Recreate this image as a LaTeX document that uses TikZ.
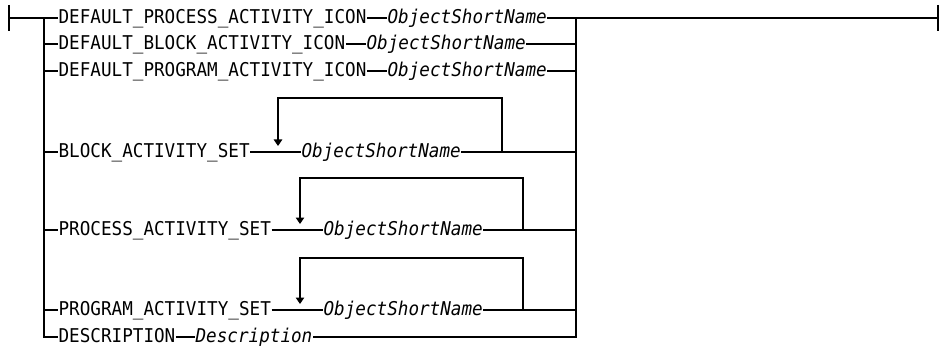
\documentclass[tikz,border=0pt]{standalone}
\usepackage{fontspec}
\newfontfamily\diagfont[FakeStretch=0.928]{DejaVu Sans Mono}
\usetikzlibrary{arrows.meta}
\begin{document}
\begin{tikzpicture}[x=1pt,y=-1pt,
  line width=1.2pt,
  txt/.style={anchor=west,inner xsep=0pt,inner ysep=0pt,text height=14pt,text depth=2.8pt,
    font=\diagfont\fontsize{19}{22}\selectfont},
  var/.style={txt,font=\diagfont\itshape\fontsize{19}{22}\selectfont},
  loopline/.style={-{Triangle[width=8.5pt,length=6.5pt]}}]
\useasboundingbox (0,0) rectangle (942,350);
% rows: 18, 44, 71, 152, 230, 310, 337
\node[txt] (k1) at (58,18) {DEFAULT\_PROCESS\_ACTIVITY\_ICON};
\node[var] (o1) at (387,18) {ObjectShortName};
\node[txt] (k2) at (58,44) {DEFAULT\_BLOCK\_ACTIVITY\_ICON};
\node[var] (o2) at (366,44) {ObjectShortName};
\node[txt] (k3) at (58,71) {DEFAULT\_PROGRAM\_ACTIVITY\_ICON};
\node[var] (o3) at (387,71) {ObjectShortName};
\node[txt] (k4) at (58,152) {BLOCK\_ACTIVITY\_SET};
\node[var] (o4) at (301,152) {ObjectShortName};
\node[txt] (k5) at (58,230) {PROCESS\_ACTIVITY\_SET};
\node[var] (o5) at (323,230) {ObjectShortName};
\node[txt] (k6) at (58,310) {PROGRAM\_ACTIVITY\_SET};
\node[var] (o6) at (323,310) {ObjectShortName};
\node[txt] (k7) at (58,337) {DESCRIPTION};
\node[var] (o7) at (195,337) {Description};
% coordinates
\coordinate (start) at (9,18);
\coordinate (bl) at (44,18);
\coordinate (br) at (576,18);
\coordinate (brb) at (576,337);
\coordinate (blb) at (44,337);
\coordinate (end) at (938,18);
% end bars
\draw (9,5) -- (9,31);
\draw (938,5) -- (938,31);
% main line and branches
\draw (start) -- (k1.west);
\draw (bl) -- (blb) -- (k7.west);
\foreach \k in {k2,k3,k4,k5,k6} \draw (bl|-\k.west) -- (\k.west);
\draw (o1.east) -- (br) -- (end);
\draw (br) -- (brb) -- (o7.east);
\foreach \o in {o2,o3,o4,o5,o6} \draw (\o.east) -- (br|-\o.east);
\foreach \i in {1,...,7} \draw (k\i.east) -- (o\i.west);
% repeat loops
\coordinate (l4r) at (502,152);
\coordinate (l4l) at (278,98);
\coordinate (l4t) at (278,146);
\draw[loopline] (l4r) |- (l4l) -- (l4t);
\coordinate (l5r) at (523,230);
\coordinate (l5l) at (300,178);
\coordinate (l5t) at (300,224);
\draw[loopline] (l5r) |- (l5l) -- (l5t);
\coordinate (l6r) at (523,310);
\coordinate (l6l) at (300,258);
\coordinate (l6t) at (300,304);
\draw[loopline] (l6r) |- (l6l) -- (l6t);
\end{tikzpicture}
\end{document}
